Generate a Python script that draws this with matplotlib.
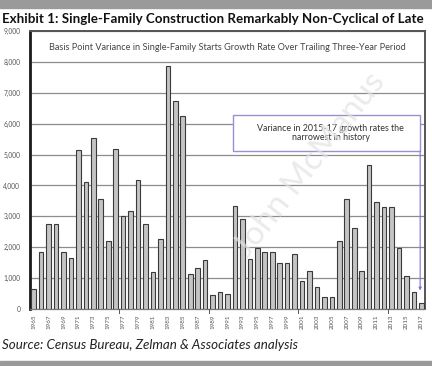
import matplotlib
matplotlib.use("Agg")
import matplotlib.pyplot as plt
from matplotlib.patches import Rectangle

plt.rcParams['font.family'] = ['Lato', 'DejaVu Sans']

years = list(range(1965, 2018))
values = [650, 1850, 2750, 2750, 1850, 1650, 5150, 4120, 5520, 3550,
          2200, 5180, 3000, 3170, 4170, 2760, 1200, 2280, 7870, 6730,
          6240, 1130, 1320, 1580, 460, 540, 500, 3350, 2900, 1620,
          1980, 1830, 1830, 1480, 1480, 1790, 900, 1240, 720, 400,
          400, 2200, 3550, 2620, 1220, 4650, 3450, 3300, 3300, 1970,
          1060, 550, 200]
ytick_vals = [0, 1000, 2000, 3000, 4000, 5000, 6000, 7000, 8000, 9000]
ytick_labels = ['0', '1,000', '2,000', '3,000', '4,000', '5,000', '6,000', '7,000', '8,000', '9,000']
title = "Exhibit 1: Single-Family Construction Remarkably Non-Cyclical of Late"
subtitle = "Basis Point Variance in Single-Family Starts Growth Rate Over Trailing Three-Year Period"
note = "Variance in 2015-17 growth rates the\nnarrowest in history"
source = "Source: Census Bureau, Zelman & Associates analysis"

W, H = 432, 366
fig = plt.figure(figsize=(W/100, H/100), dpi=100)
fig.patch.set_facecolor('white')

fig.add_artist(Rectangle((0, 1-8/H), 1, 8/H, transform=fig.transFigure, color='#9a9a9a', zorder=0))
fig.add_artist(Rectangle((0, 0), 1, 5/H, transform=fig.transFigure, color='#9a9a9a', zorder=0))

ax = fig.add_axes([30/W, 1-309/H, 395/W, 278/H])
x = list(range(len(years)))
ax.bar(x, values, width=0.62, color='#c4c4c4', edgecolor='#3a3a3a', linewidth=0.8, zorder=3)
ax.set_xlim(-0.5, len(years)-0.5)
ax.set_ylim(0, 9000)
ax.set_yticks(ytick_vals)
ax.set_yticklabels(ytick_labels, fontsize=4.8, color='#555555')
ax.yaxis.grid(True, color='#8c8c8c', linewidth=0.9, zorder=0)
ax.tick_params(axis='y', length=0, pad=7)

xt = x[::2]
ax.set_xticks(xt)
ax.set_xticklabels([str(years[i]) for i in xt], rotation=90, fontsize=4.5, color='#555555')
ax.tick_params(axis='x', length=0, pad=4)
for m in [11.5, 23.5, 35.5, 47.5]:
    ax.plot([m, m], [0, -120], color='#555555', lw=0.7, clip_on=False, zorder=4)

ax.spines['left'].set_linewidth(2.0)
ax.spines['left'].set_color('#1a1a1a')
for s in ['top', 'right']:
    ax.spines[s].set_linewidth(1.4)
    ax.spines[s].set_color('#555555')
ax.spines['bottom'].set_color('#777777')
ax.spines['bottom'].set_linewidth(0.9)

ax.text(0.5, 0.94, subtitle, transform=ax.transAxes, ha='center', va='center',
        fontsize=6.6, color='#444444', zorder=6)

bx0, bx1 = 26.7, 51.85
by0, by1 = 5110, 6280
ax.add_patch(Rectangle((bx0, by0), bx1-bx0, by1-by0, facecolor='white',
                       edgecolor='#9d8fcf', linewidth=1.0, zorder=5))
ax.text((bx0+bx1)/2 + 0.6, (by0+by1)/2, note, ha='center', va='center', fontsize=6.4,
        color='#333333', zorder=6, linespacing=1.1)
ax.annotate('', xy=(51.85, 600), xytext=(51.85, by0),
            arrowprops=dict(arrowstyle='-|>', color='#8070c8', lw=0.8,
                            mutation_scale=4, shrinkA=0, shrinkB=0), zorder=6)

fig.text(310/W, 1-165/H, "John McManus", rotation=52, fontsize=24, color='#e2e2e2',
         alpha=0.7, ha='center', va='center', zorder=10)

fig.text(2/W, 1-19/H, title, fontsize=9.65, fontweight='bold', color='#111111',
         ha='left', va='center')
fig.text(2/W, 1-345/H, source, fontsize=9.6, fontstyle='italic', color='#222222',
         ha='left', va='center')

fig.savefig('out.png', dpi=100)
